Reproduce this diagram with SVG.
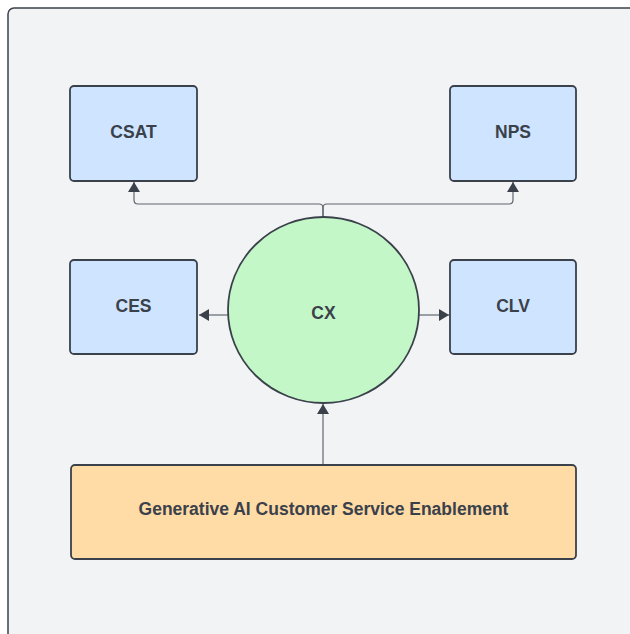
<svg xmlns="http://www.w3.org/2000/svg" width="630" height="634" viewBox="0 0 630 634">
  <style>
    .frame { fill: #f2f3f5; stroke: #3a414a; stroke-width: 1.5; }
    .box { stroke: #3a414a; stroke-width: 1.8; }
    .metric { fill: #cfe4ff; }
    .hub { fill: #c3f7c8; }
    .base { fill: #ffdba6; }
    .label { font-family: "Liberation Sans", Arial, sans-serif; font-weight: bold; font-size: 17.5px; fill: #3a414a; text-anchor: middle; dominant-baseline: central; }
    .edge { fill: none; stroke: #5f6670; stroke-width: 1.2; marker-end: url(#arrow); }
  </style>
  <defs>
    <marker id="arrow" viewBox="0 0 10 12" refX="10" refY="6" markerWidth="10" markerHeight="12" markerUnits="userSpaceOnUse" orient="auto">
      <path d="M0,0 L10,6 L0,12 Z" fill="#3a414a"/>
    </marker>
  </defs>

  <rect class="frame" x="8" y="8" width="640" height="650" rx="6"/>

  <g id="connectors">
    <path class="edge" d="M323,217 V208 Q323,204 319,204 H138 Q134,204 134,200 V182"/>
    <path class="edge" d="M323,217 V208 Q323,204 327,204 H509 Q513,204 513,200 V182"/>
    <path class="edge" d="M228,315 H199"/>
    <path class="edge" d="M419,315 H449"/>
    <path class="edge" d="M323,464 V404"/>
  </g>

  <g id="csat">
    <rect class="box metric" x="70" y="86" width="127" height="95" rx="4"/>
    <text class="label" x="133.5" y="132">CSAT</text>
  </g>
  <g id="nps">
    <rect class="box metric" x="450" y="86" width="126" height="95" rx="4"/>
    <text class="label" x="513" y="132">NPS</text>
  </g>
  <g id="ces">
    <rect class="box metric" x="70" y="260" width="127" height="94" rx="4"/>
    <text class="label" x="133.5" y="306">CES</text>
  </g>
  <g id="clv">
    <rect class="box metric" x="450" y="260" width="126" height="94" rx="4"/>
    <text class="label" x="513" y="306">CLV</text>
  </g>
  <g id="cx">
    <ellipse class="box hub" cx="323.5" cy="310" rx="95.5" ry="93"/>
    <text class="label" x="323.5" y="313">CX</text>
  </g>
  <g id="enablement">
    <rect class="box base" x="71" y="465" width="505" height="94" rx="4"/>
    <text class="label" x="323.5" y="509">Generative AI Customer Service Enablement</text>
  </g>
</svg>
